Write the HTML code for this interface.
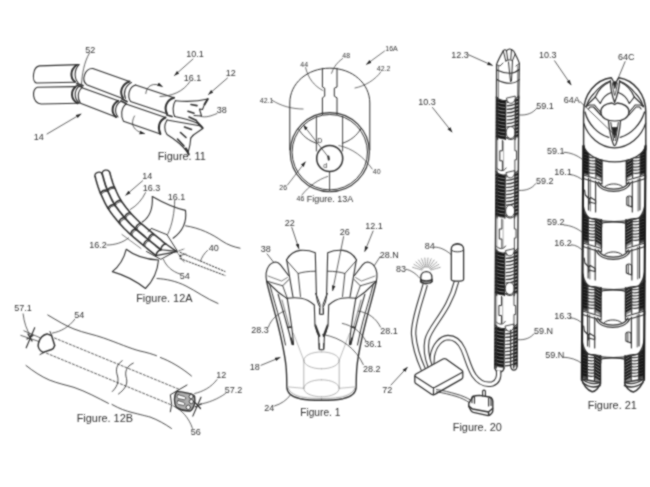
<!DOCTYPE html>
<html lang="en">
<head>
<meta charset="utf-8">
<title>Patent figures</title>
<style>
html,body{margin:0;padding:0;background:#fff;}
body{width:650px;height:487px;overflow:hidden;}
svg{display:block;}
svg text{font-family:"Liberation Sans",sans-serif;fill:#303030;stroke:none;}
.lb{font-size:9px;transform:translate(-0.3px,-0.6px);}
.fg{font-size:10.9px;transform:translate(-0.8px,0.3px);}
.sm{font-size:7px;transform:translate(-0.2px,-0.4px);}
</style>
</head>
<body>
<svg width="650" height="487" viewBox="0 0 650 487">
<defs>
<filter id="bl" filterUnits="userSpaceOnUse" x="0" y="0" width="650" height="487" color-interpolation-filters="sRGB"><feConvolveMatrix order="3" kernelMatrix="1 2 1 2 7 2 1 2 1" divisor="19" edgeMode="none" preserveAlpha="false"/></filter>
<marker id="ah" viewBox="0 0 10 10" refX="9" refY="5" markerWidth="5.5" markerHeight="5.5" orient="auto-start-reverse" markerUnits="userSpaceOnUse"><path d="M0,1.8 L10,5 L0,8.2 Z" fill="#222" stroke="none"/></marker>
</defs>
<rect width="650" height="487" fill="#fff"/>
<g filter="url(#bl)" fill="none" stroke="#2e2e2e" stroke-width="1.1" stroke-linecap="round" stroke-linejoin="round">
<!-- 01_fig11.svg -->
<g id="fig11">
<!-- segment A upper -->
<path d="M79,64.6 L39.6,65.9 C32.5,66.5 31.5,82 36.6,83 L75,82.3"/>
<path d="M76.6,65 C70,70 70,78 75,81.8" stroke-width="2.00"/>
<path d="M79,64.6 C74,70 74,78 78,82.5"/>
<!-- segment A lower -->
<path d="M75.8,86.6 L37.3,87.2 C31.5,89 32,103 41.2,104 L79,103.2"/>
<path d="M75.8,86.6 C70.5,91 70.5,99 77.4,103.2" stroke-width="2.00"/>
<path d="M78.6,86.6 C74,91 74,99 79.4,103"/>
<!-- segment B upper -->
<path d="M92.8,68.5 C85,68 81,80 86.6,84.7 L122,98.2"/>
<path d="M92.8,68.5 L129.5,81.5"/>
<path d="M129.5,81.5 C122,84 119,92 123,98" stroke-width="2.00"/>
<path d="M131.5,82.5 C125,86 123,93 125.5,98.5"/>
<!-- segment B lower -->
<path d="M82,87.7 L118.2,100.8"/>
<path d="M82,87.7 C77,92 77.5,99 80.5,103.2 L116,117"/>
<path d="M118.2,100.8 C112,104 110.5,112 116,117" stroke-width="2.00"/>
<path d="M120.5,101.5 C115,105 114,112 118,117"/>
<!-- segment C upper -->
<path d="M135.5,85 C129,87 127,96 130.5,101.5 L167,113.8"/>
<path d="M135.5,85 L174,97.8"/>
<path d="M174,97.8 C166,100 164,108 167,113.8" stroke-width="2.00"/>
<!-- segment C lower -->
<path d="M126,104 L165.5,117.5"/>
<path d="M126,104 C121,108 120.5,116 123.5,121.2 L160.4,134"/>
<path d="M165.5,117.5 C158.5,121 157.5,128 160.4,134" stroke-width="2.00"/>
<!-- joints -->
<path d="M77,83.5 L83,85.5 M77,85.5 L82,87" stroke-width="1.75"/>
<path d="M122,99 L127,101.5 M121,101 L126,103.5" stroke-width="1.75"/>
<path d="M167,115 L172,116.5" stroke-width="1.75"/>
</g>

<!-- 02_fig11b.svg -->
<g id="fig11b">
<!-- claw upper -->
<path d="M175.4,100.8 C172.5,105 172.5,112 174.7,116.5"/>
<path d="M175.4,100.8 C188,102 198,101.5 207.8,99 C205,103 203.5,106 202.5,109.5 L199.5,109 L201.5,116 L194,115.5"/>
<path d="M207.8,99 L204.5,104.5" stroke-width="2.00"/>
<path d="M191,104.5 L197,105.6 M188,111.3 L194,113.2 M189,117 L196.5,120.5" stroke-width="1.62"/>
<path d="M174.7,116.5 C182,118 190,120 197,123"/>
<!-- claw lower -->
<path d="M167,120 C164,125 164,130 167,134.5 C176,140 183,146 188,153 C189.5,148 190.5,143 190.8,138"/>
<path d="M186,148.5 L188.8,154.5" stroke-width="2.00"/>
<path d="M167,120 C178,122 190,124 201,126 L202.8,128.5 L198.5,131.5 C196,133 193,134.5 190.8,138"/>
<path d="M197,122 L202.6,128" stroke-width="2.00"/>
<path d="M184.5,127 L191.5,129.5 M180.5,132.5 L186,137.5 M177.5,139 L184,146" stroke-width="1.62"/>
<!-- rotation arrows -->
<path d="M145.8,93.5 C146.5,86 153,81.5 162.3,86.5" stroke-width="0.75" marker-end="url(#ah)"/>
<path d="M134.5,116 C130,124 133,131 144.5,133.6" stroke-width="0.75" marker-end="url(#ah)"/>
<!-- leaders -->
<path d="M89.5,53 C84,62 82,75 81.5,84" stroke-width="0.75"/>
<path d="M193,59 L174.5,75.5" stroke-width="0.75" marker-end="url(#ah)"/>
<path d="M190,81.5 C183,92 172,96 160,96.5" stroke-width="0.75"/>
<path d="M227.5,78 L208.5,94.5" stroke-width="0.75" marker-end="url(#ah)"/>
<path d="M217,113.5 C210,116.5 206,117.5 201,116.5" stroke-width="0.75"/>
<path d="M47,134 L81,114" stroke-width="0.75" marker-end="url(#ah)"/>
<text class="lb" x="85.5" y="54">52</text>
<text class="lb" x="186.5" y="57.5">10.1</text>
<text class="lb" x="184" y="82">16.1</text>
<text class="lb" x="226" y="76.5">12</text>
<text class="lb" x="217" y="114">38</text>
<text class="lb" x="34" y="141">14</text>
<text class="fg" x="158.5" y="160">Figure. 11</text>
</g>

<!-- 03_fig12a.svg -->
<g id="fig12a">
<!-- snake -->
<path d="M109.7,172.4 L110.1,173.8 L110.5,175.2 L110.9,176.6 L111.2,177.9 L111.6,179.1 L112.0,180.3 L112.4,181.5 L112.7,182.7 L113.1,183.7 L113.4,184.6 L113.7,185.5 L114.2,186.6 L114.8,187.9 L115.6,189.6 L116.4,191.5 L117.3,193.5 L118.3,195.6 L119.4,197.6 L120.5,199.7 L121.8,201.7 L123.3,203.8 L125.1,206.2 L126.9,208.6 L128.9,211.0 L131.0,213.4 L133.1,215.7 L135.1,217.8 L137.1,219.8 L139.2,221.8 L141.4,223.8 L143.7,225.7 L146.0,227.7 L148.4,229.7 L150.8,231.7 L153.2,233.7 L155.6,235.7 L158.1,237.7 L160.6,239.7 L163.1,241.8 L165.6,243.8" stroke-width="1.56"/>
<path d="M95.1,176.6 L95.5,177.9 L95.8,179.2 L96.2,180.6 L96.6,182.0 L97.0,183.5 L97.5,184.9 L97.9,186.3 L98.3,187.4 L98.7,188.6 L99.1,189.8 L99.6,191.1 L100.2,192.6 L100.9,194.2 L101.7,195.9 L102.6,197.8 L103.6,200.0 L104.7,202.4 L106.0,204.9 L107.5,207.5 L109.2,210.1 L111.0,212.7 L113.0,215.4 L115.1,218.1 L117.3,220.8 L119.6,223.4 L121.9,226.0 L124.2,228.5 L126.6,230.8 L129.0,233.1 L131.4,235.2 L133.8,237.3 L136.2,239.3 L138.6,241.3 L141.0,243.4 L143.5,245.5 L146.0,247.5 L148.5,249.6 L151.0,251.6 L153.5,253.6 L156.0,255.6" stroke-width="1.56"/>
<path d="M102.4,174.5 L102.8,175.9 L103.2,177.2 L103.5,178.6 L103.9,180.0 L104.3,181.3 L104.7,182.6 L105.1,183.9 L105.5,185.1 L105.9,186.2 L106.2,187.2 L106.7,188.3 L107.2,189.6 L107.8,191.1 L108.6,192.8 L109.5,194.7 L110.5,196.8 L111.5,199.0 L112.7,201.3 L114.0,203.6 L115.5,205.9 L117.2,208.3 L119.0,210.8 L121.0,213.3 L123.1,215.9 L125.3,218.4 L127.5,220.8 L129.6,223.2 L131.8,225.3 L134.1,227.4 L136.4,229.5 L138.7,231.5 L141.1,233.5 L143.5,235.5 L145.9,237.6 L148.3,239.6 L150.8,241.6 L153.3,243.6 L155.8,245.7 L158.3,247.7 L160.8,249.7" stroke-width="1.75"/>
<path d="M109.7,172.4 C108.5,168.1 101.2,170.2 102.4,174.5" stroke-width="1.31"/>
<path d="M95.1,176.6 C93.9,172.3 101.2,170.2 102.4,174.5" stroke-width="1.31"/>
<path d="M114.4,187.0 Q109.9,186.3 107.4,190.1" stroke-width="1.50"/>
<path d="M115.0,188.5 Q110.4,187.4 108.0,191.5" stroke-width="0.88"/>
<path d="M100.4,193.1 Q103.0,189.4 107.4,190.1" stroke-width="1.50"/>
<path d="M101.1,194.6 Q103.4,190.5 108.0,191.5" stroke-width="0.88"/>
<path d="M120.9,200.3 Q116.5,200.3 114.5,204.4" stroke-width="1.50"/>
<path d="M121.8,201.7 Q117.1,201.3 115.3,205.7" stroke-width="0.88"/>
<path d="M108.0,208.4 Q110.0,204.3 114.5,204.4" stroke-width="1.50"/>
<path d="M108.9,209.7 Q110.6,205.3 115.3,205.7" stroke-width="0.88"/>
<path d="M130.3,212.6 Q125.9,213.3 124.5,217.6" stroke-width="1.50"/>
<path d="M131.3,213.8 Q126.6,214.2 125.6,218.8" stroke-width="0.88"/>
<path d="M118.8,222.5 Q120.1,218.2 124.5,217.6" stroke-width="1.50"/>
<path d="M119.8,223.8 Q120.9,219.2 125.6,218.8" stroke-width="0.88"/>
<path d="M140.7,223.1 Q136.3,224.4 135.6,228.8" stroke-width="1.50"/>
<path d="M141.9,224.2 Q137.2,225.2 136.8,229.9" stroke-width="0.88"/>
<path d="M130.6,234.5 Q131.3,230.1 135.6,228.8" stroke-width="1.50"/>
<path d="M131.8,235.6 Q132.2,230.9 136.8,229.9" stroke-width="0.88"/>
<path d="M153.2,233.7 Q148.9,235.1 148.3,239.6" stroke-width="1.50"/>
<path d="M154.4,234.8 Q149.8,235.9 149.6,240.6" stroke-width="0.88"/>
<path d="M143.5,245.5 Q144.1,241.0 148.3,239.6" stroke-width="1.50"/>
<path d="M144.7,246.5 Q145.0,241.8 149.6,240.6" stroke-width="0.88"/>
<path d="M165.6,243.8 Q161.3,245.2 160.8,249.7" stroke-width="1.50"/>
<path d="M156.0,255.6 Q156.5,251.1 160.8,249.7" stroke-width="1.50"/>
<path d="M165.6,243.8 L176.8,251.6 L156.0,255.6" stroke-width="1.31"/>
<path d="M160.8,249.7 L174.8,251.1" stroke-width="1.12"/>
<!-- frame -->
<path d="M151.6,228.5 L167,234.7 L177,250.5 L160.8,259.3 L146.5,251.5" stroke-width="1.00"/>
<path d="M151.6,228.5 L148,231.5" stroke-width="1.00"/>
<!-- upper fabric -->
<path d="M152.3,196.6 C166,204.5 174,208 185.5,210.4 C187,223 182,232 173.1,238.2"/>
<path d="M152.3,196.6 C153,209 150,217 142.3,222"/>
<path d="M174.7,200.4 C174.5,212 172.5,224 167.7,234.3" stroke-width="0.75"/>
<!-- lower fabric -->
<path d="M126.2,249.3 C136,257 146,259.5 158.5,260 C157.5,272 153,281 145.5,288.5 C136,281 126,275.5 112.3,271.6 C120,265.5 124,258.5 126.2,249.3 Z"/>
<!-- tissue lines -->
<path d="M185.5,225.8 C200,228 212,234 222,241 C228,245 234,247 240,248.2" stroke-width="0.88"/>
<path d="M157,278.5 C166,279 176,281 186,286 C196,291 206,298.5 218,303.5" stroke-width="0.88"/>
<!-- dashed -->
<path d="M180,252.3 L225,271.5 M180,258.5 L225,275.5" stroke-width="1.00" stroke-dasharray="1.6 1.6"/>
<path d="M177,251.5 L184,249 M177,252 L184,262 M180,255.5 L186,254" stroke-width="0.75" stroke-dasharray="1.2 1.2"/>
<circle cx="180.5" cy="256" r="1" fill="#222" stroke="none"/>
<!-- leaders -->
<path d="M142.6,180.8 L125.8,195.2" stroke-width="0.75" marker-end="url(#ah)"/>
<path d="M145.5,192.6 C142,200 137,205.5 130.3,209.5" stroke-width="0.75"/>
<path d="M107,245 C115,245 123,242.5 128.5,238" stroke-width="0.75"/>
<path d="M122,234.5 L141,248.5" stroke-width="0.62"/>
<path d="M207.5,250.5 C204,253.5 202,257 200.5,261" stroke-width="0.75"/>
<path d="M163.5,259.5 C166,266 172,271.5 180,274" stroke-width="0.75"/>
<text class="lb" x="142.5" y="180">14</text>
<text class="lb" x="143" y="192">16.3</text>
<text class="lb" x="168" y="200.5">16.1</text>
<text class="lb" x="89.5" y="248.6">16.2</text>
<text class="lb" x="209" y="252">40</text>
<text class="lb" x="180" y="279.5">54</text>
<text class="fg" x="137" y="301.6">Figure. 12A</text>
</g>

<!-- 04_fig12b.svg -->
<g id="fig12b">
<!-- tissue -->
<path d="M47.8,315 C58,321 66,326 74,329 C84,333 94,334.5 103.6,338 C118,343 130,348.5 140,351 C147,352.5 152,354 156.5,355.7" stroke-width="0.88"/>
<path d="M160.4,357.5 C170,361 182,368 191.5,376" stroke-width="0.88"/>
<path d="M26,365.5 C33,371 41,376.5 49.3,380 C58,383.5 66,385 74,387.4 C86,391.5 98,398 108.5,403.4" stroke-width="0.88"/>
<path d="M112,404.5 C120,409 126,411 132,412.5 C140,414.5 146,416 150,417 C158,420 165,424 171.5,428.5" stroke-width="0.88"/>
<!-- dashed -->
<path d="M54.5,338 L180,389.7" stroke-width="0.81" stroke-dasharray="2.2 1.8"/>
<path d="M46.5,353.2 L171.6,405" stroke-width="0.81" stroke-dasharray="2.2 1.8"/>
<!-- break -->
<path d="M122.2,360.7 C116,365 115.5,370 117.5,376 C119,382 117,387 112.3,391.5" stroke-width="0.88"/>
<path d="M133.3,363.1 C126,366.5 124.5,372 126.5,378.5 C128,385 124,390 118.5,394" stroke-width="0.88"/>
<!-- incision -->
<path d="M47,333.9 L51.6,335.6 L54.7,345.5 C54,348 53,349 51.6,349.5 L43.1,352.4 C39,350.5 37.5,346.5 38.5,343 C39.5,338.5 43,334.5 47,333.9 Z" stroke-width="1.50"/>
<path d="M50,331.5 L51.8,336 M40,354.5 L44.5,352.2" stroke-width="1.00"/>
<!-- x mark -->
<path d="M34.7,327.7 L26.2,347.8" stroke-width="1.12"/>
<path d="M20.8,335.4 L39.3,341.6 M23.9,330.8 L40,337.7" stroke-width="0.75"/>
<path d="M28,334 L32,341 M27,339 L33,335.5" stroke-width="1.38"/>
<!-- device -->
<path d="M187,385 L170.3,394.8 L171.7,404.6 L170.3,411.8" stroke-width="1.00"/>
<path d="M176.6,391.4 C180,391.5 185,392.5 189,393.4 C192,394 194,395 194.6,396.5 C195,399 195,402 194.3,404.5 C193.5,407.5 192,410 190.3,411 C186,411.3 180,409.5 176.4,407.3 C173.8,403 173.8,396 176.6,391.4 Z" fill="#2a2a2a" fill-opacity="0.38" stroke-width="1.38"/>
<path d="M178,394.6 L184.5,396.6 C186,397.3 186,399.3 184.5,399.8 L178.2,398.6 C176.8,398 176.8,395 178,394.6 Z M178,400.6 L183.8,402.4 C185.2,403 185.2,405 183.8,405.5 L178.2,404.4 C176.8,403.8 176.8,401 178,400.6 Z" fill="#fff" stroke-width="0.75"/>
<circle cx="191.2" cy="396.6" r="2.1" fill="#fff" stroke-width="0.88"/>
<circle cx="191.4" cy="401.6" r="2.1" fill="#fff" stroke-width="0.88"/>
<circle cx="188.3" cy="407.3" r="2.2" fill="#fff" stroke-width="0.88"/>
<path d="M201,397.2 L192.8,416.1" stroke-width="1.12"/>
<path d="M195.5,403 L200.5,408.5 M195.3,406.8 L201.3,404" stroke-width="1.25"/>
<!-- leaders -->
<path d="M23.1,313.9 C24,322 26.5,330 30.8,336.2" stroke-width="0.75"/>
<path d="M74.7,319.3 C69,327 61,331.5 52.4,333.1" stroke-width="0.75"/>
<path d="M217,379.6 C211,387.5 203,391.5 194.7,393.5" stroke-width="0.75"/>
<path d="M225.5,393.5 C218,399 208,403 199.3,404.3" stroke-width="0.75"/>
<path d="M192.4,428.2 C189,418 182,410 173.1,405.8" stroke-width="0.75"/>
<text class="lb" x="14.5" y="311.5">57.1</text>
<text class="lb" x="74.5" y="318.5">54</text>
<text class="lb" x="216.5" y="379">12</text>
<text class="lb" x="225" y="393.5">57.2</text>
<text class="lb" x="191" y="436">56</text>
<text class="fg" x="77.5" y="421.5">Figure. 12B</text>
</g>

<!-- 05_fig13a.svg -->
<g id="fig13a">
<path d="M289.8,150 L289.8,103 C289.8,83.5 307,68.2 329.8,68.2 C352.5,68.2 369.8,83.5 369.8,103 L369.8,150" stroke-width="1.00"/>
<path d="M322.4,68.3 L322.4,87 L324.7,88.2 L324.7,96.2 L322.4,97.8 L322.4,114.5" stroke-width="1.00"/>
<path d="M337,68.3 L337,87 L334.3,88.2 L334.3,96.2 L337,97.8 L337,114.5" stroke-width="1.00"/>
<circle cx="329.8" cy="152.2" r="39.6" stroke-width="1.12"/>
<circle cx="329.8" cy="152.2" r="37.7" stroke-width="1.00"/>
<circle cx="329.7" cy="158.5" r="13" stroke-width="1.50"/>
<path d="M316.4,116.5 L316.4,151 M342.6,116.5 L342.6,151 M329.6,172 L329.6,190.5" stroke-width="0.88"/>
<path d="M298.3,128.5 C302,135.5 308.5,140.8 316.7,143.3 M342.3,143.3 C350.5,140.8 357,135.5 361,128.5" stroke-width="0.88"/>
<path d="M329,157.9 L303.5,125.2" stroke-width="0.75" marker-end="url(#ah)"/>
<path d="M328.3,156.5 L328.8,159.5" stroke-width="2.00"/>
<!-- leaders -->
<path d="M338.9,145.6 C352,148 364,157 372.2,169" stroke-width="0.69"/>
<path d="M287.5,185 L305.3,162" stroke-width="0.69" marker-end="url(#ah)"/>
<path d="M301.9,195 C309,186 318,179.5 327.8,176.4" stroke-width="0.69"/>
<path d="M272.3,100.4 C281,106 292,109 303.1,109" stroke-width="0.69"/>
<path d="M305.6,67.6 C308,78 314,86 322.9,90.5" stroke-width="0.69"/>
<path d="M342.6,58.5 C337.5,62 333.5,67 331.5,73.3" stroke-width="0.69"/>
<path d="M384.5,51.1 L366.5,64.3" stroke-width="0.69" marker-end="url(#ah)"/>
<path d="M380.8,72 C375,80 365,86 355,88" stroke-width="0.69"/>
<text class="sm" x="373" y="174">40</text>
<text class="sm" x="279.5" y="190.7">26</text>
<text class="sm" x="296.8" y="201.6">46</text>
<text class="sm" x="260" y="103">42.1</text>
<text class="sm" x="300.5" y="67">44</text>
<text class="sm" x="342.5" y="58.5">48</text>
<text class="sm" x="385.5" y="51.8">16A</text>
<text class="sm" x="377" y="71.6">42.2</text>
<text class="sm" x="317.5" y="143.5">D</text>
<text class="sm" x="323.5" y="168">d</text>
<text x="306.8" y="202.3" style="font-size:9px">Figure. 13A</text>
</g>

<!-- 06_fig1.svg -->
<g id="fig1">
<defs>
<g id="f1half">
<!-- back petal -->
<path d="M286.6,259.7 C290,254 295,251 300,250.4 C305,250 310,250.5 315.3,252.7 L316.4,294"/>
<path d="M286.6,259.7 L293,297"/>
<path d="M286.6,260.5 L298.1,273.5 C303,272 308,271.3 315.5,271.2 M298.1,273.5 L300.5,296.5" stroke-width="0.88"/>
<!-- side petal -->
<path d="M266.6,281.2 C265.5,275 266,270 268.5,266.5 C270.5,263.5 273,262.3 275.5,262 C277.5,262 279,263 280.5,264.8 L288.5,275.5"/>
<path d="M267,281.2 L282.7,285.8 L288.9,279.5 M282.7,285.8 L287.2,298" stroke-width="0.88"/>
<path d="M266.6,281.2 L278,292 C282,295 285,297 287,298.5" stroke-width="1.12"/>
<path d="M268,276 L281.5,281 L287.5,277.5" stroke-width="0.62"/>
<!-- outer edge -->
<path d="M266.6,281.2 C270,296 274,309 277,321 C281,337 284.5,352 286,366 C286.8,374 286.8,380 286.8,387 C287,393 292,397 300,398.7 C307,400 314,400.3 321.5,400.3" stroke-width="1.38"/>
<path d="M269.5,283.5 C273,297 277,310 280,321 C282,329 284,337 285.5,345" stroke-width="1.00"/>
<path d="M288.3,388.5 C290,393 296,396 303,397.2 C309,398.2 315,398.5 321.5,398.5" stroke-width="0.62" stroke="#777"/>
<!-- finger slot -->
<path d="M278.1,294.2 C281,304 284,314 286.6,323.5 C288.5,330 290.5,337 292,344.5 L293.5,344.5 C293,336 292,330 291.2,323.5 C290,315 288.5,306 287.2,298.3"/>
<path d="M282,300 L289.5,327" stroke-width="0.62"/>
<path d="M288,327.5 L291.5,327 M291,338 L293.2,344.5" stroke-width="1.50"/>
<!-- front petal -->
<path d="M287.2,298.3 C292,297.6 297,297.6 301.2,298.2 C306,299 310.5,301.5 314.3,305 L315,326 L318.5,335 L319.2,349"/>
<!-- Y clips -->
<path d="M315.9,293.5 L320,304.5 L319.8,313.5 M315.9,293.5 L317.5,302 L319.5,306.5" stroke-width="1.00"/>
<path d="M319.5,308.5 L319.5,314.3 L321.5,314.3" stroke-width="1.00"/>
<path d="M315.6,325 L319.8,336 M315.6,325 L316.8,331.5 L319,336.5" stroke-width="1.25"/>
<path d="M319.3,343.5 L319.3,349.7 L321.5,349.7" stroke-width="1.00"/>
<!-- thin -->
<path d="M293.5,333.3 L303.8,360.4 M286.8,386.8 L303.8,388.3" stroke-width="0.56" stroke="#888"/>
<path d="M321.5,351.9 C311.5,351.9 303.8,355.7 303.8,360.4 L303.8,388.3 C303.8,393 311.5,396.8 321.5,396.8 M303.8,388.3 C303.8,383.5 311.5,379.8 321.5,379.8 M303.8,360.4 C303.8,365 311.5,368.8 321.5,368.8" stroke-width="0.62" stroke="#888"/>
</g>
</defs>
<use href="#f1half"/>
<use href="#f1half" transform="translate(643,0) scale(-1,1)"/>
<!-- leaders -->
<path d="M291.8,227.3 L298.9,248.7" stroke-width="0.75" marker-end="url(#ah)"/>
<path d="M343.6,236.6 L332.7,290.5" stroke-width="0.75" marker-end="url(#ah)"/>
<path d="M373.1,231 L364.8,251.3" stroke-width="0.75" marker-end="url(#ah)"/>
<path d="M267.1,253.9 L273.3,261.8" stroke-width="0.75"/>
<path d="M380,256.8 L374.4,265.5" stroke-width="0.75"/>
<path d="M268.4,327.1 C271,319.5 277,314 284.4,311.1" stroke-width="0.75"/>
<path d="M261,365.3 L280,357.5" stroke-width="0.75" marker-end="url(#ah)"/>
<path d="M274.5,406 C281,404 287,400 290.5,394.9" stroke-width="0.75"/>
<path d="M380.5,327.1 C376,318 368,312.5 358.3,311.1" stroke-width="0.75"/>
<path d="M365.7,340.7 C361,331.5 352,325.5 342.3,323.4" stroke-width="0.75"/>
<path d="M363.3,364.6 C356,349 342,337.5 322.6,334.5" stroke-width="0.75"/>
<text class="lb" x="285" y="227">22</text>
<text class="lb" x="340" y="236">26</text>
<text class="lb" x="365.5" y="229.7">12.1</text>
<text class="lb" x="261" y="253">38</text>
<text class="lb" x="380" y="258.8">28.N</text>
<text class="lb" x="251.5" y="333.3">28.3</text>
<text class="lb" x="250" y="370.3">18</text>
<text class="lb" x="264.5" y="411.4">24</text>
<text class="lb" x="380.5" y="334.5">28.1</text>
<text class="lb" x="364.5" y="347.3">36.1</text>
<text class="lb" x="363.3" y="372.7">28.2</text>
<text class="fg" x="301" y="415.5" style="font-size:10.2px">Figure. 1</text>
</g>

<!-- 07_fig20.svg -->
<g id="fig20">
<path d="M496.4,98 L496.5,64.7 C498,60 501,55 503.3,50.8 C504.5,49.3 506,49.5 506.5,51 C507.5,49 510,48.6 511.5,49.6 C513.5,50.5 514.5,52 515.2,54 C517,57.5 518.5,60.5 519.4,63.4 L518.8,98"/>
<path d="M503.3,50.8 L505.8,61 M506.5,51 L507.8,60 M511.5,49.6 L510.8,59 M515.2,54 L512.5,60.5 M505.8,61 C508,59.5 510.5,59.5 512.5,60.5 M508.5,62 L510.5,81.5 M512.5,60.5 L511.5,81" stroke-width="1.00"/>
<path d="M496.8,70 C502,72.5 507,73.3 510,73.3 C514,73 517,71.5 519.3,69.5 M496.8,79.5 C502,82.5 507,83.3 510.5,83.3 C514.5,83 517.5,81.5 519.3,79.5" stroke-width="1.12"/>
<path d="M498.3,66 L498.3,97 M517.9,66 L517.7,97" stroke-width="0.75"/>
<path d="M496.5,64.7 L500,66 L503,63 M519.4,63.4 L516,66" stroke-width="0.88"/>
<path d="M496.4,97 L494.7,368 M518.8,97 L517.1,366" stroke-width="1.38"/>
<path d="M496.4,97.0 C500.4,102.0 513.8,102.0 518.8,96.0" stroke-width="1.12"/>
<path d="M496.7,99.0 L505.7,101.5 L505.4,140.0 L496.4,138.0 Z" fill="#111" fill-opacity="0.5" stroke="none"/>
<path d="M515.2,99.0 L518.5,97.5 L518.2,137.5 L514.9,139.0 Z" fill="#111" fill-opacity="0.4" stroke="none"/>
<path d="M496.4,100.1 Q501.4,102.3 505.7,102.2 M496.4,103.7 Q501.4,105.8 505.7,105.8 M496.3,107.2 Q501.3,109.4 505.6,109.3 M496.3,110.8 Q501.3,112.9 505.6,112.8 M496.3,114.3 Q501.3,116.5 505.6,116.4 M496.3,117.8 Q501.3,120.0 505.6,119.9 M496.2,121.4 Q501.2,123.6 505.5,123.5 M496.2,124.9 Q501.2,127.1 505.5,127.0 M496.2,128.5 Q501.2,130.7 505.5,130.6 M496.2,132.1 Q501.2,134.2 505.5,134.2 M496.2,135.6 Q501.2,137.8 505.5,137.7" stroke-width="2.50" stroke="#141414" stroke-linecap="butt"/>
<path d="M506.7,102.3 Q511.7,102.3 515.4,100.5 M506.7,105.8 Q511.7,105.8 515.4,104.0 M506.6,109.4 Q511.6,109.4 515.3,107.6 M506.6,112.9 Q511.6,112.9 515.3,111.1 M506.6,116.5 Q511.6,116.5 515.3,114.7 M506.6,120.0 Q511.6,120.0 515.3,118.2 M506.5,123.6 Q511.5,123.6 515.2,121.8 M506.5,127.1 Q511.5,127.1 515.2,125.3 M506.5,130.7 Q511.5,130.7 515.2,128.9 M506.5,134.2 Q511.5,134.2 515.2,132.5 M506.5,137.8 Q511.5,137.8 515.2,136.0" stroke-width="1.19" stroke-linecap="butt"/>
<path d="M515.4,100.7 L518.8,99.5 M515.4,104.2 L518.8,103.0 M515.3,107.8 L518.7,106.6 M515.3,111.3 L518.7,110.1 M515.3,114.9 L518.7,113.7 M515.3,118.4 L518.7,117.2 M515.2,122.0 L518.6,120.8 M515.2,125.5 L518.6,124.3 M515.2,129.1 L518.6,127.9 M515.2,132.7 L518.6,131.5 M515.2,136.2 L518.6,135.0" stroke-width="1.88" stroke="#1c1c1c" stroke-linecap="butt"/>
<path d="M506.5,98.5 C507.2,105.0 514.2,105.0 515.3,98.5 L515.3,96.5 Z" fill="#fff" stroke-width="0.88"/>
<ellipse cx="510.7" cy="132.5" rx="4.6" ry="6" fill="#fff" stroke-width="0.88"/>
<path d="M505.7,100.5 L505.4,139.5 M515.4,99.5 L515.1,139.5 M497.9,97.5 L497.6,139.5" stroke-width="1.25"/>
<path d="M495.9,171.5 C499.9,176.5 513.3,176.5 518.3,170.5" stroke-width="1.12"/>
<path d="M496.2,173.5 L505.2,176.0 L504.9,218.5 L495.9,216.5 Z" fill="#111" fill-opacity="0.5" stroke="none"/>
<path d="M514.7,173.5 L518.0,172.0 L517.7,216.0 L514.4,217.5 Z" fill="#111" fill-opacity="0.4" stroke="none"/>
<path d="M495.9,174.6 Q500.9,176.8 505.2,176.7 M495.9,178.2 Q500.9,180.3 505.2,180.2 M495.9,181.7 Q500.9,183.9 505.2,183.8 M495.8,185.3 Q500.8,187.5 505.1,187.4 M495.8,188.8 Q500.8,191.0 505.1,190.9 M495.8,192.4 Q500.8,194.6 505.1,194.5 M495.8,195.9 Q500.8,198.1 505.1,198.0 M495.8,199.5 Q500.8,201.7 505.1,201.6 M495.7,203.0 Q500.7,205.2 505.0,205.1 M495.7,206.6 Q500.7,208.8 505.0,208.7 M495.7,210.1 Q500.7,212.3 505.0,212.2 M495.7,213.7 Q500.7,215.9 505.0,215.8" stroke-width="2.50" stroke="#141414" stroke-linecap="butt"/>
<path d="M506.2,176.8 Q511.2,176.8 514.9,175.0 M506.2,180.3 Q511.2,180.3 514.9,178.6 M506.2,183.9 Q511.2,183.9 514.9,182.1 M506.1,187.5 Q511.1,187.5 514.8,185.7 M506.1,191.0 Q511.1,191.0 514.8,189.2 M506.1,194.6 Q511.1,194.6 514.8,192.8 M506.1,198.1 Q511.1,198.1 514.8,196.3 M506.1,201.7 Q511.1,201.7 514.8,199.9 M506.0,205.2 Q511.0,205.2 514.7,203.4 M506.0,208.8 Q511.0,208.8 514.7,207.0 M506.0,212.3 Q511.0,212.3 514.7,210.5 M506.0,215.9 Q511.0,215.9 514.7,214.1" stroke-width="1.19" stroke-linecap="butt"/>
<path d="M514.9,175.2 L518.3,174.0 M514.9,178.8 L518.3,177.6 M514.9,182.3 L518.3,181.1 M514.8,185.9 L518.2,184.7 M514.8,189.4 L518.2,188.2 M514.8,193.0 L518.2,191.8 M514.8,196.5 L518.2,195.3 M514.8,200.1 L518.2,198.9 M514.7,203.6 L518.1,202.4 M514.7,207.2 L518.1,206.0 M514.7,210.7 L518.1,209.5 M514.7,214.3 L518.1,213.1" stroke-width="1.88" stroke="#1c1c1c" stroke-linecap="butt"/>
<path d="M506.0,173.0 C506.7,179.5 513.7,179.5 514.8,173.0 L514.8,171.0 Z" fill="#fff" stroke-width="0.88"/>
<ellipse cx="510.2" cy="211.0" rx="4.6" ry="6" fill="#fff" stroke-width="0.88"/>
<path d="M505.2,175.0 L504.9,218.0 M514.9,174.0 L514.6,218.0 M497.4,172.0 L497.1,218.0" stroke-width="1.25"/>
<path d="M495.4,249.5 C499.4,254.5 512.8,254.5 517.8,248.5" stroke-width="1.12"/>
<path d="M495.7,251.5 L504.7,254.0 L504.5,296.0 L495.5,294.0 Z" fill="#111" fill-opacity="0.5" stroke="none"/>
<path d="M514.2,251.5 L517.5,250.0 L517.3,293.5 L514.0,295.0 Z" fill="#111" fill-opacity="0.4" stroke="none"/>
<path d="M495.4,252.6 Q500.4,254.8 504.7,254.7 M495.4,256.1 Q500.4,258.4 504.7,258.2 M495.4,259.7 Q500.4,261.9 504.7,261.8 M495.4,263.2 Q500.4,265.5 504.7,265.4 M495.3,266.8 Q500.3,269.0 504.6,268.9 M495.3,270.4 Q500.3,272.6 504.6,272.5 M495.3,273.9 Q500.3,276.1 504.6,276.0 M495.3,277.5 Q500.3,279.7 504.6,279.6 M495.3,281.0 Q500.3,283.2 504.6,283.1 M495.2,284.6 Q500.2,286.8 504.5,286.7 M495.2,288.1 Q500.2,290.3 504.5,290.2 M495.2,291.7 Q500.2,293.9 504.5,293.8" stroke-width="2.50" stroke="#141414" stroke-linecap="butt"/>
<path d="M505.7,254.8 Q510.7,254.8 514.4,253.0 M505.7,258.4 Q510.7,258.4 514.4,256.6 M505.7,261.9 Q510.7,261.9 514.4,260.1 M505.7,265.5 Q510.7,265.5 514.4,263.7 M505.6,269.0 Q510.6,269.0 514.3,267.2 M505.6,272.6 Q510.6,272.6 514.3,270.8 M505.6,276.1 Q510.6,276.1 514.3,274.3 M505.6,279.7 Q510.6,279.7 514.3,277.9 M505.6,283.2 Q510.6,283.2 514.3,281.4 M505.5,286.8 Q510.5,286.8 514.2,285.0 M505.5,290.3 Q510.5,290.3 514.2,288.5 M505.5,293.9 Q510.5,293.9 514.2,292.1" stroke-width="1.19" stroke-linecap="butt"/>
<path d="M514.4,253.2 L517.8,252.0 M514.4,256.8 L517.8,255.6 M514.4,260.3 L517.8,259.1 M514.4,263.9 L517.8,262.7 M514.3,267.4 L517.7,266.2 M514.3,271.0 L517.7,269.8 M514.3,274.5 L517.7,273.3 M514.3,278.1 L517.7,276.9 M514.3,281.6 L517.7,280.4 M514.2,285.2 L517.6,284.0 M514.2,288.7 L517.6,287.5 M514.2,292.3 L517.6,291.1" stroke-width="1.88" stroke="#1c1c1c" stroke-linecap="butt"/>
<path d="M505.5,251.0 C506.2,257.5 513.2,257.5 514.3,251.0 L514.3,249.0 Z" fill="#fff" stroke-width="0.88"/>
<ellipse cx="509.8" cy="288.5" rx="4.6" ry="6" fill="#fff" stroke-width="0.88"/>
<path d="M504.7,253.0 L504.5,295.5 M514.4,252.0 L514.2,295.5 M496.9,250.0 L496.7,295.5" stroke-width="1.25"/>
<path d="M495.0,325.0 C499.0,330.0 512.4,330.0 517.4,324.0" stroke-width="1.12"/>
<path d="M495.3,327.0 L504.3,329.5 L504.0,368.5 L495.0,366.5 Z" fill="#111" fill-opacity="0.5" stroke="none"/>
<path d="M513.8,327.0 L517.1,325.5 L516.8,366.0 L513.5,367.5 Z" fill="#111" fill-opacity="0.4" stroke="none"/>
<path d="M495.0,328.1 Q500.0,330.3 504.3,330.2 M494.9,331.6 Q499.9,333.9 504.2,333.8 M494.9,335.2 Q499.9,337.4 504.2,337.3 M494.9,338.8 Q499.9,341.0 504.2,340.9 M494.9,342.3 Q499.9,344.5 504.2,344.4 M494.8,345.9 Q499.8,348.1 504.1,348.0 M494.8,349.4 Q499.8,351.6 504.1,351.5 M494.8,353.0 Q499.8,355.2 504.1,355.1 M494.8,356.5 Q499.8,358.7 504.1,358.6 M494.8,360.1 Q499.8,362.3 504.1,362.2 M494.7,363.6 Q499.7,365.8 504.0,365.7" stroke-width="2.50" stroke="#141414" stroke-linecap="butt"/>
<path d="M505.3,330.3 Q510.3,330.3 514.0,328.5 M505.2,333.9 Q510.2,333.9 513.9,332.1 M505.2,337.4 Q510.2,337.4 513.9,335.6 M505.2,341.0 Q510.2,341.0 513.9,339.2 M505.2,344.5 Q510.2,344.5 513.9,342.7 M505.1,348.1 Q510.1,348.1 513.8,346.3 M505.1,351.6 Q510.1,351.6 513.8,349.8 M505.1,355.2 Q510.1,355.2 513.8,353.4 M505.1,358.7 Q510.1,358.7 513.8,356.9 M505.1,362.3 Q510.1,362.3 513.8,360.5 M505.0,365.8 Q510.0,365.8 513.7,364.0" stroke-width="1.19" stroke-linecap="butt"/>
<path d="M514.0,328.7 L517.4,327.5 M513.9,332.2 L517.3,331.1 M513.9,335.8 L517.3,334.6 M513.9,339.4 L517.3,338.2 M513.9,342.9 L517.3,341.7 M513.8,346.5 L517.2,345.3 M513.8,350.0 L517.2,348.8 M513.8,353.6 L517.2,352.4 M513.8,357.1 L517.2,355.9 M513.8,360.7 L517.2,359.5 M513.7,364.2 L517.1,363.0" stroke-width="1.88" stroke="#1c1c1c" stroke-linecap="butt"/>
<path d="M505.1,326.5 C505.8,333.0 512.8,333.0 513.9,326.5 L513.9,324.5 Z" fill="#fff" stroke-width="0.88"/>
<path d="M504.3,328.5 L504.0,368.0 M514.0,327.5 L513.7,368.0 M496.5,325.5 L496.2,368.0" stroke-width="1.25"/>
<path d="M505.1,136.5 C508.1,141.0 514.5,140.5 516.5,135.5" stroke-width="1.00"/>
<path d="M497.1,168.5 C500.1,171.5 504.1,171.5 506.1,168.0" stroke-width="1.00"/>
<path d="M502.4,140.5 L502.4,150.8 L499.8,150.8 L499.8,160.8 L502.4,160.8 L502.4,170.0" stroke-width="1.00"/>
<path d="M514.9,139.5 L514.9,150.8 L516.5,150.8 L516.5,159.8 L514.9,159.8 L514.9,172.0" stroke-width="0.88"/>
<path d="M497.7,139.5 L497.5,172.0 M503.6,141.5 L503.6,170.0" stroke-width="0.62" stroke="#777"/>
<path d="M504.6,215.0 C507.6,219.5 514.0,219.0 516.0,214.0" stroke-width="1.00"/>
<path d="M496.6,246.5 C499.6,249.5 503.6,249.5 505.6,246.0" stroke-width="1.00"/>
<path d="M501.9,219.0 L501.9,229.0 L499.3,229.0 L499.3,239.0 L501.9,239.0 L501.9,248.0" stroke-width="1.00"/>
<path d="M514.4,218.0 L514.4,229.0 L516.0,229.0 L516.0,238.0 L514.4,238.0 L514.4,250.0" stroke-width="0.88"/>
<path d="M497.2,218.0 L497.0,250.0 M503.1,220.0 L503.1,248.0" stroke-width="0.62" stroke="#777"/>
<path d="M504.2,292.5 C507.2,297.0 513.6,296.5 515.6,291.5" stroke-width="1.00"/>
<path d="M496.2,322.0 C499.2,325.0 503.2,325.0 505.2,321.5" stroke-width="1.00"/>
<path d="M501.5,296.5 L501.5,305.5 L498.9,305.5 L498.9,315.5 L501.5,315.5 L501.5,323.5" stroke-width="1.00"/>
<path d="M514.0,295.5 L514.0,305.5 L515.6,305.5 L515.6,314.5 L514.0,314.5 L514.0,325.5" stroke-width="0.88"/>
<path d="M496.8,295.5 L496.6,325.5 M502.7,297.5 L502.7,323.5" stroke-width="0.62" stroke="#777"/>
<path d="M494.7,367.0 C495.2,373.5 503.2,373.5 504.0,368.0" stroke-width="1.38"/>
<path d="M510.7,366.0 C511.2,371.5 516.6,371.5 517.1,366.0" stroke-width="1.25"/>
<path d="M510.7,330.0 L510.7,366.0" stroke-width="1.12"/>
<path d="M498.6,370.5 C499.3,377 498,382 492.5,383.8 C486,385.3 479,382.5 474,375.5 C469,368 467,358 463,349 C459.5,341.5 454,337.6 448,337.6 C441,338 434.5,345 432.3,356 L431.6,365" stroke-width="5.46" stroke="#2e2e2e" stroke-linecap="butt"/>
<path d="M498.6,370.5 C499.3,377 498,382 492.5,383.8 C486,385.3 479,382.5 474,375.5 C469,368 467,358 463,349 C459.5,341.5 454,337.6 448,337.6 C441,338 434.5,345 432.3,356 L431.6,365" stroke-width="3.34" stroke="#fff" stroke-linecap="butt"/>
<path d="M423.5,370 C419,360 414.5,347 413.6,334 C413.2,320 420.5,302 425.2,284.5" stroke-width="5.46" stroke="#2e2e2e" stroke-linecap="butt"/>
<path d="M423.5,370 C419,360 414.5,347 413.6,334 C413.2,320 420.5,302 425.2,284.5" stroke-width="3.34" stroke="#fff" stroke-linecap="butt"/>
<path d="M430,366 C427,358 425.3,349 427,340 C430,326 449,312 456.5,281.5" stroke-width="5.46" stroke="#2e2e2e" stroke-linecap="butt"/>
<path d="M430,366 C427,358 425.3,349 427,340 C430,326 449,312 456.5,281.5" stroke-width="3.34" stroke="#fff" stroke-linecap="butt"/>
<path d="M414.8,376 C414.8,375 415.2,374.5 416,374 L443,359 C444,358.5 445,358.5 446,359 L461.8,370.3 C462.6,370.9 462.8,371.5 462.8,372.3 L462.8,377 C462.8,378 462.5,378.6 461.6,379.1 L434.8,394.4 C433.8,394.9 432.8,394.9 431.8,394.4 L415.8,383.6 C415,383.2 414.8,382.5 414.8,381.6 Z" fill="#fff" stroke-width="1.25"/>
<path d="M415,376.3 L432,387.2 C433,387.7 434,387.7 435,387.2 L462.5,372.2 M433.5,387.7 L433.5,394.6" stroke-width="1.12"/>
<path d="M451.3,279.5 L451.3,249.5 C451.3,241.5 463.6,241.5 463.6,249.5 L463.6,279.5 C463.6,281.8 451.3,281.8 451.3,279.5 Z" stroke-width="1.25"/>
<path d="M451.3,249.8 C451.5,252.6 463.4,252.6 463.6,249.8 M453,245.8 C455,243.8 460,243.8 462,245.8" stroke-width="1.00"/>
<path d="M420.8,281.5 L420.8,277.5 C420.8,269.5 431.9,269.5 431.9,277.5 L431.9,281.5" stroke-width="1.25"/>
<path d="M420.6,281.3 C421.5,284 431,284 432.1,281.3 M420.8,279.5 C422,281.5 430.5,281.5 431.9,279.5" stroke-width="1.62"/>
<path d="M421.8,270.0 L412.2,267.2 M422.4,269.1 L413.9,264.4 M423.1,268.3 L416.0,262.0 M423.9,267.7 L418.6,260.1 M424.9,267.2 L421.6,258.8 M425.9,267.0 L424.8,258.1 M426.9,267.0 L428.0,258.1 M427.9,267.2 L431.2,258.8 M428.9,267.7 L434.1,260.1 M429.7,268.3 L436.8,262.0 M430.4,269.1 L438.9,264.4 M431.0,270.0 L440.6,267.2" stroke-width="0.69" stroke="#666" stroke-dasharray="1.1 1"/>
<path d="M436.5,389.6 C443,390.3 450,392.3 456,394 C462,395.6 467,397.8 470.5,400 M436.5,391.8 C443,392.7 450,394.6 456,396.3 C461,397.8 465.5,400 469,402.3" stroke-width="0.88"/>
<path d="M468.8,403.4 L472.3,397.6 C473,396.5 474,396 475.5,395.8 L479.5,395.4 L489.5,397 C491,397.3 492,398.2 492.4,399.5 L492.8,401.5 L492.8,410.8 C492.8,412 492.3,412.8 491.5,413.6 L490,415 C489.2,415.6 488.2,415.6 487,415.4 L473.5,412.4 C472.3,412 471.5,411.3 470.8,410.3 L468.8,406.5 Z" fill="#fff" stroke-width="1.38"/>
<path d="M469,406.3 L472.5,409 L488.5,412 L492.6,408.5 M488.5,412 L488.8,415.3" stroke-width="1.50"/>
<path d="M472,402.8 L472,397.3 C472,395.8 474.5,395.8 474.5,397.3 L474.5,403.2 M482.6,396 L482.6,391.2 C482.6,389.7 485.4,389.7 485.4,391.2 L485.4,396.4 M488.6,406 L488.6,398.5 C488.6,397.2 491,397.2 491,398.5 L491,405.5" stroke-width="1.12"/>
<path d="M468.4,54.7 L492.3,65.4" stroke-width="0.75" marker-end="url(#ah)"/>
<path d="M432.5,107.5 L452,132" stroke-width="0.75" marker-end="url(#ah)"/>
<path d="M536.6,108.4 C533,113 527,115.5 519.6,115" stroke-width="0.75"/>
<path d="M535.7,183.7 C532,188.5 526,190.8 519.4,190.4" stroke-width="0.75"/>
<path d="M534.2,333.6 C530.5,338 525,340.2 518,339.7" stroke-width="0.75"/>
<path d="M434.4,247.1 C440,247 446,250 451.1,254.5" stroke-width="0.75"/>
<path d="M406,269.3 C410.5,270 416,273.5 419.6,278" stroke-width="0.75"/>
<path d="M391,385 L407.3,367.3" stroke-width="0.75" marker-end="url(#ah)"/>
<text class="lb" x="451.5" y="58.4">12.3</text>
<text class="lb" x="418.5" y="106">10.3</text>
<text class="lb" x="536.6" y="110.1">59.1</text>
<text class="lb" x="536.2" y="184.7">59.2</text>
<text class="lb" x="534.2" y="334.3">59.N</text>
<text class="lb" x="425" y="250">84</text>
<text class="lb" x="396.2" y="272.3">83</text>
<text class="lb" x="382.5" y="393.2">72</text>
<text class="fg" x="453.6" y="430.5">Figure. 20</text>
</g>
<!-- 08_fig21.svg -->
<g id="fig21">
<path d="M583.4,140.0 L588.6,141.5 L588.4,175.5 L583.2,174.0 Z M645.6,140.0 L640.4,141.5 L640.2,175.5 L645.4,174.0 Z" fill="#151515" fill-opacity="0.78" stroke="none"/>
<path d="M596.1,142.0 L602.0,145.8 L601.8,179.5 L595.9,176.0 Z M632.4,142.0 L626.3,145.8 L626.1,179.5 L632.2,176.0 Z" fill="#151515" fill-opacity="0.5" stroke="none"/>
<path d="M583.4,140.0 L588.8,141.6 M645.6,140.0 L640.2,141.6 M583.4,143.1 L588.8,144.7 M645.6,143.1 L640.2,144.7 M583.4,146.2 L588.8,147.8 M645.6,146.2 L640.2,147.8 M583.3,149.3 L588.7,150.9 M645.5,149.3 L640.1,150.9 M583.3,152.4 L588.7,154.0 M645.5,152.4 L640.1,154.0 M583.3,155.5 L588.7,157.1 M645.5,155.5 L640.1,157.1 M583.3,158.6 L588.7,160.2 M645.5,158.6 L640.1,160.2 M583.2,161.7 L588.6,163.3 M645.4,161.7 L640.0,163.3 M583.2,164.8 L588.6,166.4 M645.4,164.8 L640.0,166.4 M583.2,167.9 L588.6,169.5 M645.4,167.9 L640.0,169.5 M583.2,171.0 L588.6,172.6 M645.4,171.0 L640.0,172.6" stroke-width="2.25" stroke="#161616" stroke-linecap="butt"/>
<path d="M588.8,141.6 Q592.4,142.8 595.9,142.0 M640.2,141.6 Q636.6,142.8 632.6,142.0 M588.8,144.7 Q592.4,145.9 595.9,145.1 M640.2,144.7 Q636.6,145.9 632.6,145.1 M588.8,147.8 Q592.4,149.0 595.9,148.2 M640.2,147.8 Q636.6,149.0 632.6,148.2 M588.7,150.9 Q592.3,152.1 595.8,151.3 M640.1,150.9 Q636.5,152.1 632.5,151.3 M588.7,154.0 Q592.3,155.2 595.8,154.4 M640.1,154.0 Q636.5,155.2 632.5,154.4 M588.7,157.1 Q592.3,158.3 595.8,157.5 M640.1,157.1 Q636.5,158.3 632.5,157.5 M588.7,160.2 Q592.3,161.4 595.8,160.6 M640.1,160.2 Q636.5,161.4 632.5,160.6 M588.6,163.3 Q592.2,164.5 595.7,163.7 M640.0,163.3 Q636.4,164.5 632.4,163.7 M588.6,166.4 Q592.2,167.6 595.7,166.8 M640.0,166.4 Q636.4,167.6 632.4,166.8 M588.6,169.5 Q592.2,170.7 595.7,169.9 M640.0,169.5 Q636.4,170.7 632.4,169.9 M588.6,172.6 Q592.2,173.8 595.7,173.0 M640.0,172.6 Q636.4,173.8 632.4,173.0" stroke-width="1.19" stroke="#333" stroke-linecap="butt"/>
<path d="M595.9,142.0 L602.0,145.8 M632.6,142.0 L626.3,145.8 M595.9,145.1 L602.0,148.9 M632.6,145.1 L626.3,148.9 M595.9,148.2 L602.0,152.0 M632.6,148.2 L626.3,152.0 M595.8,151.3 L601.9,155.1 M632.5,151.3 L626.2,155.1 M595.8,154.4 L601.9,158.2 M632.5,154.4 L626.2,158.2 M595.8,157.5 L601.9,161.3 M632.5,157.5 L626.2,161.3 M595.8,160.6 L601.9,164.4 M632.5,160.6 L626.2,164.4 M595.7,163.7 L601.8,167.5 M632.4,163.7 L626.1,167.5 M595.7,166.8 L601.8,170.6 M632.4,166.8 L626.1,170.6 M595.7,169.9 L601.8,173.7 M632.4,169.9 L626.1,173.7 M595.7,173.0 L601.8,176.8 M632.4,173.0 L626.1,176.8" stroke-width="1.88" stroke="#1c1c1c" stroke-linecap="butt"/>
<path d="M588.8,140.0 L588.8,176.0 M595.9,140.0 L595.9,177.5 M640.2,140.0 L640.2,176.0 M632.6,140.0 L632.6,177.5" stroke-width="1.12"/>
<path d="M602.0,146.0 L602.0,180.0 M626.3,146.0 L626.3,180.0" stroke-width="1.25" stroke="#222"/>
<path d="M583.4,175.0 Q592.4,177.5 602.0,180.5 L602.0,184.0 Q592.4,181.5 583.4,178.5 Z" fill="#fff" stroke-width="1.12"/>
<path d="M645.6,175.0 Q636.6,177.5 626.3,180.5 L626.3,184.0 Q636.6,181.5 645.6,178.5 Z" fill="#fff" stroke-width="1.12"/>
<path d="M582.9,207.0 L588.1,208.5 L587.9,243.5 L582.7,242.0 Z M645.1,207.0 L639.9,208.5 L639.7,243.5 L644.9,242.0 Z" fill="#151515" fill-opacity="0.78" stroke="none"/>
<path d="M595.6,209.0 L601.5,212.8 L601.3,247.5 L595.4,244.0 Z M631.9,209.0 L625.8,212.8 L625.6,247.5 L631.7,244.0 Z" fill="#151515" fill-opacity="0.5" stroke="none"/>
<path d="M582.9,207.0 L588.3,208.6 M645.1,207.0 L639.7,208.6 M582.9,210.1 L588.3,211.7 M645.1,210.1 L639.7,211.7 M582.9,213.2 L588.3,214.8 M645.1,213.2 L639.7,214.8 M582.9,216.3 L588.3,217.9 M645.1,216.3 L639.7,217.9 M582.9,219.4 L588.3,221.0 M645.1,219.4 L639.7,221.0 M582.8,222.5 L588.2,224.1 M645.0,222.5 L639.6,224.1 M582.8,225.6 L588.2,227.2 M645.0,225.6 L639.6,227.2 M582.8,228.7 L588.2,230.3 M645.0,228.7 L639.6,230.3 M582.8,231.8 L588.2,233.4 M645.0,231.8 L639.6,233.4 M582.8,234.9 L588.2,236.5 M645.0,234.9 L639.6,236.5 M582.7,238.0 L588.1,239.6 M644.9,238.0 L639.5,239.6" stroke-width="2.25" stroke="#161616" stroke-linecap="butt"/>
<path d="M588.3,208.6 Q591.9,209.8 595.4,209.0 M639.7,208.6 Q636.1,209.8 632.1,209.0 M588.3,211.7 Q591.9,212.9 595.4,212.1 M639.7,211.7 Q636.1,212.9 632.1,212.1 M588.3,214.8 Q591.9,216.0 595.4,215.2 M639.7,214.8 Q636.1,216.0 632.1,215.2 M588.3,217.9 Q591.9,219.1 595.4,218.3 M639.7,217.9 Q636.1,219.1 632.1,218.3 M588.3,221.0 Q591.9,222.2 595.4,221.4 M639.7,221.0 Q636.1,222.2 632.1,221.4 M588.2,224.1 Q591.8,225.3 595.3,224.5 M639.6,224.1 Q636.0,225.3 632.0,224.5 M588.2,227.2 Q591.8,228.4 595.3,227.6 M639.6,227.2 Q636.0,228.4 632.0,227.6 M588.2,230.3 Q591.8,231.5 595.3,230.7 M639.6,230.3 Q636.0,231.5 632.0,230.7 M588.2,233.4 Q591.8,234.6 595.3,233.8 M639.6,233.4 Q636.0,234.6 632.0,233.8 M588.2,236.5 Q591.8,237.7 595.3,236.9 M639.6,236.5 Q636.0,237.7 632.0,236.9 M588.1,239.6 Q591.7,240.8 595.2,240.0 M639.5,239.6 Q635.9,240.8 631.9,240.0" stroke-width="1.19" stroke="#333" stroke-linecap="butt"/>
<path d="M595.4,209.0 L601.5,212.8 M632.1,209.0 L625.8,212.8 M595.4,212.1 L601.5,215.9 M632.1,212.1 L625.8,215.9 M595.4,215.2 L601.5,219.0 M632.1,215.2 L625.8,219.0 M595.4,218.3 L601.5,222.1 M632.1,218.3 L625.8,222.1 M595.4,221.4 L601.5,225.2 M632.1,221.4 L625.8,225.2 M595.3,224.5 L601.4,228.3 M632.0,224.5 L625.7,228.3 M595.3,227.6 L601.4,231.4 M632.0,227.6 L625.7,231.4 M595.3,230.7 L601.4,234.5 M632.0,230.7 L625.7,234.5 M595.3,233.8 L601.4,237.6 M632.0,233.8 L625.7,237.6 M595.3,236.9 L601.4,240.7 M632.0,236.9 L625.7,240.7 M595.2,240.0 L601.3,243.8 M631.9,240.0 L625.6,243.8" stroke-width="1.88" stroke="#1c1c1c" stroke-linecap="butt"/>
<path d="M588.3,207.0 L588.3,244.0 M595.4,207.0 L595.4,245.5 M639.7,207.0 L639.7,244.0 M632.1,207.0 L632.1,245.5" stroke-width="1.12"/>
<path d="M601.5,213.0 L601.5,248.0 M625.8,213.0 L625.8,248.0" stroke-width="1.25" stroke="#222"/>
<path d="M582.9,243.0 Q591.9,245.5 601.5,248.5 L601.5,252.0 Q591.9,249.5 582.9,246.5 Z" fill="#fff" stroke-width="1.12"/>
<path d="M645.1,243.0 Q636.1,245.5 625.8,248.5 L625.8,252.0 Q636.1,249.5 645.1,246.5 Z" fill="#fff" stroke-width="1.12"/>
<path d="M582.5,275.0 L587.7,276.5 L587.4,311.5 L582.2,310.0 Z M644.7,275.0 L639.5,276.5 L639.2,311.5 L644.4,310.0 Z" fill="#151515" fill-opacity="0.78" stroke="none"/>
<path d="M595.2,277.0 L601.1,280.8 L600.8,315.5 L594.9,312.0 Z M631.5,277.0 L625.4,280.8 L625.1,315.5 L631.2,312.0 Z" fill="#151515" fill-opacity="0.5" stroke="none"/>
<path d="M582.5,275.0 L587.9,276.6 M644.7,275.0 L639.3,276.6 M582.5,278.1 L587.9,279.7 M644.7,278.1 L639.3,279.7 M582.4,281.2 L587.8,282.8 M644.6,281.2 L639.2,282.8 M582.4,284.3 L587.8,285.9 M644.6,284.3 L639.2,285.9 M582.4,287.4 L587.8,289.0 M644.6,287.4 L639.2,289.0 M582.4,290.5 L587.8,292.1 M644.6,290.5 L639.2,292.1 M582.4,293.6 L587.8,295.2 M644.6,293.6 L639.2,295.2 M582.3,296.7 L587.7,298.3 M644.5,296.7 L639.1,298.3 M582.3,299.8 L587.7,301.4 M644.5,299.8 L639.1,301.4 M582.3,302.9 L587.7,304.5 M644.5,302.9 L639.1,304.5 M582.3,306.0 L587.7,307.6 M644.5,306.0 L639.1,307.6" stroke-width="2.25" stroke="#161616" stroke-linecap="butt"/>
<path d="M587.9,276.6 Q591.5,277.8 595.0,277.0 M639.3,276.6 Q635.7,277.8 631.7,277.0 M587.9,279.7 Q591.5,280.9 595.0,280.1 M639.3,279.7 Q635.7,280.9 631.7,280.1 M587.8,282.8 Q591.4,284.0 594.9,283.2 M639.2,282.8 Q635.6,284.0 631.6,283.2 M587.8,285.9 Q591.4,287.1 594.9,286.3 M639.2,285.9 Q635.6,287.1 631.6,286.3 M587.8,289.0 Q591.4,290.2 594.9,289.4 M639.2,289.0 Q635.6,290.2 631.6,289.4 M587.8,292.1 Q591.4,293.3 594.9,292.5 M639.2,292.1 Q635.6,293.3 631.6,292.5 M587.8,295.2 Q591.4,296.4 594.9,295.6 M639.2,295.2 Q635.6,296.4 631.6,295.6 M587.7,298.3 Q591.3,299.5 594.8,298.7 M639.1,298.3 Q635.5,299.5 631.5,298.7 M587.7,301.4 Q591.3,302.6 594.8,301.8 M639.1,301.4 Q635.5,302.6 631.5,301.8 M587.7,304.5 Q591.3,305.7 594.8,304.9 M639.1,304.5 Q635.5,305.7 631.5,304.9 M587.7,307.6 Q591.3,308.8 594.8,308.0 M639.1,307.6 Q635.5,308.8 631.5,308.0" stroke-width="1.19" stroke="#333" stroke-linecap="butt"/>
<path d="M595.0,277.0 L601.1,280.8 M631.7,277.0 L625.4,280.8 M595.0,280.1 L601.1,283.9 M631.7,280.1 L625.4,283.9 M594.9,283.2 L601.0,287.0 M631.6,283.2 L625.3,287.0 M594.9,286.3 L601.0,290.1 M631.6,286.3 L625.3,290.1 M594.9,289.4 L601.0,293.2 M631.6,289.4 L625.3,293.2 M594.9,292.5 L601.0,296.3 M631.6,292.5 L625.3,296.3 M594.9,295.6 L601.0,299.4 M631.6,295.6 L625.3,299.4 M594.8,298.7 L600.9,302.5 M631.5,298.7 L625.2,302.5 M594.8,301.8 L600.9,305.6 M631.5,301.8 L625.2,305.6 M594.8,304.9 L600.9,308.7 M631.5,304.9 L625.2,308.7 M594.8,308.0 L600.9,311.8 M631.5,308.0 L625.2,311.8" stroke-width="1.88" stroke="#1c1c1c" stroke-linecap="butt"/>
<path d="M587.9,275.0 L587.9,312.0 M595.0,275.0 L595.0,313.5 M639.3,275.0 L639.3,312.0 M631.7,275.0 L631.7,313.5" stroke-width="1.12"/>
<path d="M601.1,281.0 L601.1,316.0 M625.4,281.0 L625.4,316.0" stroke-width="1.25" stroke="#222"/>
<path d="M582.5,311.0 Q591.5,313.5 601.1,316.5 L601.1,320.0 Q591.5,317.5 582.5,314.5 Z" fill="#fff" stroke-width="1.12"/>
<path d="M644.7,311.0 Q635.7,313.5 625.4,316.5 L625.4,320.0 Q635.7,317.5 644.7,314.5 Z" fill="#fff" stroke-width="1.12"/>
<path d="M582.0,343.0 L587.2,344.5 L587.0,379.5 L581.8,378.0 Z M644.2,343.0 L639.0,344.5 L638.8,379.5 L644.0,378.0 Z" fill="#151515" fill-opacity="0.78" stroke="none"/>
<path d="M594.7,345.0 L600.6,348.8 L600.4,383.5 L594.5,380.0 Z M631.0,345.0 L624.9,348.8 L624.7,383.5 L630.8,380.0 Z" fill="#151515" fill-opacity="0.5" stroke="none"/>
<path d="M582.0,343.0 L587.4,344.6 M644.2,343.0 L638.8,344.6 M582.0,346.1 L587.4,347.7 M644.2,346.1 L638.8,347.7 M582.0,349.2 L587.4,350.8 M644.2,349.2 L638.8,350.8 M582.0,352.3 L587.4,353.9 M644.2,352.3 L638.8,353.9 M581.9,355.4 L587.3,357.0 M644.1,355.4 L638.7,357.0 M581.9,358.5 L587.3,360.1 M644.1,358.5 L638.7,360.1 M581.9,361.6 L587.3,363.2 M644.1,361.6 L638.7,363.2 M581.9,364.7 L587.3,366.3 M644.1,364.7 L638.7,366.3 M581.9,367.8 L587.3,369.4 M644.1,367.8 L638.7,369.4 M581.8,370.9 L587.2,372.5 M644.0,370.9 L638.6,372.5 M581.8,374.0 L587.2,375.6 M644.0,374.0 L638.6,375.6" stroke-width="2.25" stroke="#161616" stroke-linecap="butt"/>
<path d="M587.4,344.6 Q591.0,345.8 594.5,345.0 M638.8,344.6 Q635.2,345.8 631.2,345.0 M587.4,347.7 Q591.0,348.9 594.5,348.1 M638.8,347.7 Q635.2,348.9 631.2,348.1 M587.4,350.8 Q591.0,352.0 594.5,351.2 M638.8,350.8 Q635.2,352.0 631.2,351.2 M587.4,353.9 Q591.0,355.1 594.5,354.3 M638.8,353.9 Q635.2,355.1 631.2,354.3 M587.3,357.0 Q590.9,358.2 594.4,357.4 M638.7,357.0 Q635.1,358.2 631.1,357.4 M587.3,360.1 Q590.9,361.3 594.4,360.5 M638.7,360.1 Q635.1,361.3 631.1,360.5 M587.3,363.2 Q590.9,364.4 594.4,363.6 M638.7,363.2 Q635.1,364.4 631.1,363.6 M587.3,366.3 Q590.9,367.5 594.4,366.7 M638.7,366.3 Q635.1,367.5 631.1,366.7 M587.3,369.4 Q590.9,370.6 594.4,369.8 M638.7,369.4 Q635.1,370.6 631.1,369.8 M587.2,372.5 Q590.8,373.7 594.3,372.9 M638.6,372.5 Q635.0,373.7 631.0,372.9 M587.2,375.6 Q590.8,376.8 594.3,376.0 M638.6,375.6 Q635.0,376.8 631.0,376.0" stroke-width="1.19" stroke="#333" stroke-linecap="butt"/>
<path d="M594.5,345.0 L600.6,348.8 M631.2,345.0 L624.9,348.8 M594.5,348.1 L600.6,351.9 M631.2,348.1 L624.9,351.9 M594.5,351.2 L600.6,355.0 M631.2,351.2 L624.9,355.0 M594.5,354.3 L600.6,358.1 M631.2,354.3 L624.9,358.1 M594.4,357.4 L600.5,361.2 M631.1,357.4 L624.8,361.2 M594.4,360.5 L600.5,364.3 M631.1,360.5 L624.8,364.3 M594.4,363.6 L600.5,367.4 M631.1,363.6 L624.8,367.4 M594.4,366.7 L600.5,370.5 M631.1,366.7 L624.8,370.5 M594.4,369.8 L600.5,373.6 M631.1,369.8 L624.8,373.6 M594.3,372.9 L600.4,376.7 M631.0,372.9 L624.7,376.7 M594.3,376.0 L600.4,379.8 M631.0,376.0 L624.7,379.8" stroke-width="1.88" stroke="#1c1c1c" stroke-linecap="butt"/>
<path d="M587.4,343.0 L587.4,380.0 M594.5,343.0 L594.5,381.5 M638.8,343.0 L638.8,380.0 M631.2,343.0 L631.2,381.5" stroke-width="1.12"/>
<path d="M600.6,349.0 L600.6,384.0 M624.9,349.0 L624.9,384.0" stroke-width="1.25" stroke="#222"/>
<path d="M583.7,205.0 L583.7,213.0 A31.1,8.5 0 0 0 644.7,213.0 L644.7,205.0 Z" fill="#fff" stroke="none"/>
<path d="M583.1,213.0 A31.1,8.5 0 0 0 645.3,213.0" stroke-width="1.25"/>
<path d="M601.7,223.5 C604.7,221.3 622.7,221.3 626.0,223.5" stroke-width="1.12"/>
<path d="M601.7,220.0 L601.7,227.0 M626.0,220.0 L626.0,227.0" stroke-width="1.12"/>
<path d="M598.6,182.0 C603.1,191.5 624.3,191.5 628.8,182.0 M597.1,183.5 C602.1,194.0 625.3,194.0 630.3,183.5" stroke-width="1.25"/>
<path d="M605.1,186.5 C609.1,183.0 618.3,183.0 622.3,186.5" stroke-width="1.00"/>
<path d="M588.5,178.0 L588.5,210.0 M595.6,181.0 L595.6,212.0 M639.9,178.0 L639.9,210.0 M632.3,181.0 L632.3,212.0" stroke-width="1.12"/>
<path d="M590.3,179.0 L590.3,211.0 M638.1,179.0 L638.1,211.0" stroke-width="0.75"/>
<path d="M584.6,190.0 L585.3,195.0 L589.1,199.0 L589.1,204.0 M589.1,199.0 L590.6,197.5 L595.6,200.5 L595.6,203.5 L589.1,202.0 Z" stroke-width="1.12"/>
<path d="M626.8,205.0 L626.8,197.5 C627.3,195.5 631.3,195.5 632.0,197.5 L632.0,207.0 Z" stroke-width="1.12"/>
<path d="M628.8,197.0 L628.8,206.0" stroke-width="0.88"/>
<path d="M583.3,273.0 L583.3,281.0 A31.1,8.5 0 0 0 644.3,281.0 L644.3,273.0 Z" fill="#fff" stroke="none"/>
<path d="M582.7,281.0 A31.1,8.5 0 0 0 644.9,281.0" stroke-width="1.25"/>
<path d="M601.3,291.5 C604.3,289.3 622.3,289.3 625.6,291.5" stroke-width="1.12"/>
<path d="M601.3,288.0 L601.3,295.0 M625.6,288.0 L625.6,295.0" stroke-width="1.12"/>
<path d="M598.2,250.0 C602.7,259.5 623.9,259.5 628.4,250.0 M596.7,251.5 C601.7,262.0 624.9,262.0 629.9,251.5" stroke-width="1.25"/>
<path d="M604.7,254.5 C608.7,251.0 617.9,251.0 621.9,254.5" stroke-width="1.00"/>
<path d="M588.1,246.0 L588.1,278.0 M595.2,249.0 L595.2,280.0 M639.5,246.0 L639.5,278.0 M631.9,249.0 L631.9,280.0" stroke-width="1.12"/>
<path d="M589.9,247.0 L589.9,279.0 M637.7,247.0 L637.7,279.0" stroke-width="0.75"/>
<path d="M584.2,258.0 L584.9,263.0 L588.7,267.0 L588.7,272.0 M588.7,267.0 L590.2,265.5 L595.2,268.5 L595.2,271.5 L588.7,270.0 Z" stroke-width="1.12"/>
<path d="M626.4,273.0 L626.4,265.5 C626.9,263.5 630.9,263.5 631.6,265.5 L631.6,275.0 Z" stroke-width="1.12"/>
<path d="M628.4,265.0 L628.4,274.0" stroke-width="0.88"/>
<path d="M582.8,341.0 L582.8,349.0 A31.1,8.5 0 0 0 643.8,349.0 L643.8,341.0 Z" fill="#fff" stroke="none"/>
<path d="M582.2,349.0 A31.1,8.5 0 0 0 644.4,349.0" stroke-width="1.25"/>
<path d="M600.8,359.5 C603.8,357.3 621.8,357.3 625.1,359.5" stroke-width="1.12"/>
<path d="M600.8,356.0 L600.8,363.0 M625.1,356.0 L625.1,363.0" stroke-width="1.12"/>
<path d="M597.7,318.0 C602.2,327.5 623.4,327.5 627.9,318.0 M596.2,319.5 C601.2,330.0 624.4,330.0 629.4,319.5" stroke-width="1.25"/>
<path d="M604.2,322.5 C608.2,319.0 617.4,319.0 621.4,322.5" stroke-width="1.00"/>
<path d="M587.6,314.0 L587.6,346.0 M594.7,317.0 L594.7,348.0 M639.0,314.0 L639.0,346.0 M631.4,317.0 L631.4,348.0" stroke-width="1.12"/>
<path d="M589.4,315.0 L589.4,347.0 M637.2,315.0 L637.2,347.0" stroke-width="0.75"/>
<path d="M583.7,326.0 L584.4,331.0 L588.2,335.0 L588.2,340.0 M588.2,335.0 L589.7,333.5 L594.7,336.5 L594.7,339.5 L588.2,338.0 Z" stroke-width="1.12"/>
<path d="M625.9,341.0 L625.9,333.5 C626.4,331.5 630.4,331.5 631.1,333.5 L631.1,343.0 Z" stroke-width="1.12"/>
<path d="M627.9,333.0 L627.9,342.0" stroke-width="0.88"/>
<path d="M583.9,112 L583.9,145.5 A31.1,18.2 0 0 0 645.5,145.5 L645.5,112 Z" fill="#fff" stroke="none"/>
<path d="M583.7,145 A31.1,18.4 0 0 0 645.7,145" stroke-width="1.25"/>
<path d="M583.6,150 L583.6,112 A31.1,34.6 0 0 1 611.2,77.7 L613,80.5 M617,80.5 L618.8,77.7 A31.1,34.6 0 0 1 645.8,112 L645.8,150" stroke-width="1.38"/>
<path d="M586.3,107 C587.5,101 591,96.5 594,93.5 C598.5,88 604,83.3 609.8,81.3 M620,81.3 C626,83.3 631,88 635.5,93.5 C638.5,96.5 642,101 643.2,107" stroke-width="1.12"/>
<path d="M595.3,97 C598.5,89 604,84.5 609.5,82 M620.3,82 C626,84.5 631,89 634.3,97" stroke-width="1.12"/>
<path d="M595.3,97 L600.3,103.5 M634.3,97 L629.3,103.5 M600.3,103.5 C602.5,97.5 607,94 611.3,92.5 M629.3,103.5 C627,97.5 622.5,94 618.3,92.5" stroke-width="1.12"/>
<path d="M586,106 L595.3,97 M643.6,106 L634.3,97" stroke-width="1.12"/>
<path d="M610.3,80.5 C610.5,88 612.2,96 614.6,102.5 C617.2,96 619.3,88 619.6,80.5" stroke-width="1.25"/>
<path d="M612.3,83 C612.8,88 613.6,92 614.7,95.5 C615.9,92 616.8,88 617.3,83" stroke-width="0.88"/>
<path d="M613,82 L614.8,88.5 L616.6,82 Z" fill="#222" stroke-width="0.88"/>
<path d="M600.8,112 C600.8,106.5 606,103.5 612,103 L614.6,104.5 L617.2,103 C623.5,103.5 629,106.5 629,112 C629,117.5 622.5,121.3 614.8,121.3 C607,121.3 600.8,117.5 600.8,112 Z" stroke-width="1.38"/>
<path d="M586,106.5 L589,105 L594.5,105 L596.5,107.5 L601,112.5 M588.5,109 L590,107 L593.5,107 L600.8,115 M643.6,106.5 L640.6,105 L635.1,105 L633.1,107.5 L628.8,112.5 M641.1,109 L639.6,107 L636.1,107 L629,115" stroke-width="1.12"/>
<path d="M585,112 C588,124 598,134.5 608.8,137.3 M620.2,137.3 C631,134.5 641,124 644.5,112" stroke-width="1.25"/>
<path d="M583.8,123.4 C588,136.5 600,147.8 614.6,147.8 C629,147.8 641.5,136.5 645.6,123.4" stroke-width="1.25"/>
<path d="M608.5,121.5 C609.2,129 611,138.5 613.6,144.8 C614.3,145.8 615.1,145.8 615.7,144.8 C618.2,138.5 619.8,129 620.5,121.5" fill="#fff" stroke-width="1.25"/>
<path d="M610.8,122.5 L613.7,140.5 M618.3,122.5 L615.6,140.5" stroke-width="1.00"/>
<path d="M612.2,128 L614.6,138 L617,128 Z" fill="#222" stroke-width="1.00"/>
<path d="M583.3,146 L581.8,380 M645.5,146 L644.0,380" stroke-width="2.12" stroke="#1c1c1c"/>
<path d="M582.9,200.0 C583.9,208.0 585.7,213.0 588.1,216.0 L582.9,216.5 Z M645.1,200.0 C644.1,208.0 642.3,213.0 639.9,216.0 L645.1,216.5 Z" fill="#1a1a1a" fill-opacity="0.85" stroke="none"/>
<path d="M582.4,268.0 C583.4,276.0 585.2,281.0 587.6,284.0 L582.4,284.5 Z M644.6,268.0 C643.6,276.0 641.8,281.0 639.4,284.0 L644.6,284.5 Z" fill="#1a1a1a" fill-opacity="0.85" stroke="none"/>
<path d="M582.0,336.0 C583.0,344.0 584.8,349.0 587.2,352.0 L582.0,352.5 Z M644.2,336.0 C643.2,344.0 641.4,349.0 639.0,352.0 L644.2,352.5 Z" fill="#1a1a1a" fill-opacity="0.85" stroke="none"/>
<path d="M581.7,379.0 C582.7,384.5 587.7,390.5 592.2,391.8 C595.7,391.3 599.7,387.0 600.3,382.5 Z" fill="#fff" stroke-width="1.50"/>
<path d="M643.9,379.0 C642.9,384.5 637.9,390.5 633.4,392.0 C629.9,391.3 624.9,387.0 624.6,382.5 Z" fill="#fff" stroke-width="1.50"/>
<path d="M582.7,382.5 Q590.7,389.5 600.2,385.5 M642.9,382.5 Q633.9,389.5 624.4,385.5" stroke-width="1.38"/>
<path d="M582.2,379.0 Q590.7,386.0 600.3,382.5 M643.4,379.0 Q633.9,386.0 624.6,382.5" stroke-width="1.25"/>
<path d="M554.6,60.8 L571,84.8" stroke-width="0.75" marker-end="url(#ah)"/>
<path d="M625.1,61.6 L616.2,83" stroke-width="0.75"/>
<path d="M580,101.5 L613.3,133.6" stroke-width="0.75"/>
<path d="M564,152.3 C570,152.5 577,155 582.8,159.7" stroke-width="0.75"/>
<path d="M570.1,174.5 C575,175 580,177.5 583.5,180.7" stroke-width="0.75"/>
<path d="M564,225 C570,225.3 577,228 582.5,232.5" stroke-width="0.75"/>
<path d="M571.4,244.8 C576,245 580,247.5 583.2,251" stroke-width="0.75"/>
<path d="M570.1,317.8 C575,318 580,320.5 582.8,324" stroke-width="0.75"/>
<path d="M563.5,357.2 C570,357.5 577,359.5 582,363.4" stroke-width="0.75"/>
<text class="lb" x="539.3" y="58.4">10.3</text>
<text class="lb" x="618.2" y="60.8">64C</text>
<text class="lb" x="564" y="104">64A</text>
<text class="lb" x="547.2" y="154.3">59.1</text>
<text class="lb" x="554.6" y="175.8">16.1</text>
<text class="lb" x="547.2" y="225.8">59.2</text>
<text class="lb" x="554.6" y="246.5">16.2</text>
<text class="lb" x="554.6" y="319.5">16.3</text>
<text class="lb" x="545.5" y="358.5">59.N</text>
<text class="fg" x="588.6" y="408.4">Figure. 21</text>
</g>

</g>
</svg>
</body>
</html>
